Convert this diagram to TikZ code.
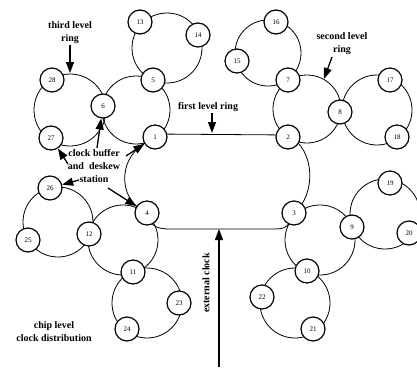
\documentclass[tikz,border=0pt]{standalone}
\usepackage{fontspec}
\setmainfont{Liberation Serif}
\usetikzlibrary{arrows.meta}
\tikzset{
  x=1pt, y=-1pt,
  nd/.style={circle, draw, line width=1.2pt, fill=white, minimum size=24pt, inner sep=0pt, font=\fontsize{7}{8}\selectfont},
  ringline/.style={line width=0.8pt},
  arr/.style={line width=1.3pt, -{Triangle[length=11pt,width=8pt]}},
  lbl/.style={font=\fontsize{10}{13}\selectfont\bfseries, align=center, inner sep=0pt}
}
\begin{document}
\begin{tikzpicture}
\useasboundingbox (0,0) rectangle (417,367);
% ring centres
\coordinate (c1351) at (167,48);
\coordinate (c561) at (136,110);
\coordinate (c28627) at (70,110);
\coordinate (c15167) at (268,53);
\coordinate (c782) at (307,109);
\coordinate (c81718) at (377,110);
\coordinate (c3910) at (320,240);
\coordinate (c91920) at (385,214);
\coordinate (c102221) at (295,303);
\coordinate (c41211) at (123,240);
\coordinate (c262512) at (58,222);
\coordinate (c112324) at (147,303);
% rings
\draw[ringline] (c1351) circle[radius=35];
\draw[ringline] (c561) circle[radius=34];
\draw[ringline] (c28627) circle[radius=36];
\draw[ringline] (c15167) circle[radius=33];
\draw[ringline] (c782) circle[radius=34];
\draw[ringline] (c81718) circle[radius=35];
\draw[ringline] (c3910) circle[radius=35];
\draw[ringline] (c91920) circle[radius=35];
\draw[ringline] (c102221) circle[radius=35];
\draw[ringline] (c41211) circle[radius=35];
\draw[ringline] (c262512) circle[radius=35];
\draw[ringline] (c112324) circle[radius=35];
% first level ring
\draw[ringline] (155,134) -- (288,135)
  .. controls (316,150) and (316,195) .. (294,213)
  .. controls (288,229) and (285,229) .. (270,229) -- (170,229)
  .. controls (155,229) and (150,225) .. (147,213)
  .. controls (116,200) and (116,152) .. (155,138);
% nodes
\node[nd] (n1) at (155,137) {1};
\node[nd] (n2) at (288,137) {2};
\node[nd] (n3) at (294,213) {3};
\node[nd] (n4) at (147,213) {4};
\node[nd] (n5) at (153,80) {5};
\node[nd] (n6) at (103,106) {6};
\node[nd] (n7) at (288,80) {7};
\node[nd] (n8) at (340,112) {8};
\node[nd] (n9) at (352,227) {9};
\node[nd] (n10) at (307,271) {10};
\node[nd] (n11) at (133,272) {11};
\node[nd] (n12) at (89,234) {12};
\node[nd] (n13) at (140,22) {13};
\node[nd] (n14) at (198,35) {14};
\node[nd] (n15) at (237,61) {15};
\node[nd] (n16) at (276,22) {16};
\node[nd] (n17) at (390,80) {17};
\node[nd] (n18) at (397,137) {18};
\node[nd] (n19) at (390,183) {19};
\node[nd] (n20) at (409,233) {20};
\node[nd] (n21) at (313,329) {21};
\node[nd] (n22) at (262,297) {22};
\node[nd] (n23) at (179,303) {23};
\node[nd] (n24) at (127,329) {24};
\node[nd] (n25) at (28,240) {25};
\node[nd] (n26) at (50,188) {26};
\node[nd] (n27) at (51,138) {27};
\node[nd] (n28) at (52,80) {28};
% labels
\node[lbl] (tl) at (70,32.5) {third level\\ring};
\node[lbl] (sl) at (342,44) {second level\\ring};
\node[lbl] (fl) at (208,107) {first level ring};
\node[lbl] (cb) at (94,166) {clock buffer\\and\ \ deskew\\station};
\node[lbl, rotate=90] (ec) at (206,283) {external clock};
\node[lbl] (cl) at (54,331.5) {chip level\\clock distribution};
% arrows
\coordinate (tls) at (70,45);
\coordinate (tlt) at (70,73);
\draw[arr] (tls) -- (tlt);
\coordinate (sls) at (332,57);
\coordinate (slt) at (324,79);
\draw[arr] (sls) -- (slt);
\coordinate (fls) at (212,113);
\coordinate (flt) at (212,133);
\draw[arr] (fls) -- (flt);
\coordinate (a6) at (97,148);
\draw[arr] (a6) -- (n6);
\coordinate (a27) at (68,164);
\draw[arr] (a27) -- (n27);
\coordinate (a1) at (126,156);
\draw[arr] (a1) -- (n1);
\coordinate (a26) at (79,180);
\draw[arr] (a26) -- (n26);
\coordinate (a4) at (108,188);
\draw[arr] (a4) -- (n4);
\coordinate (ecs) at (219,367);
\coordinate (ect) at (219,229);
\draw[arr] (ecs) -- (ect);
\end{tikzpicture}
\end{document}
